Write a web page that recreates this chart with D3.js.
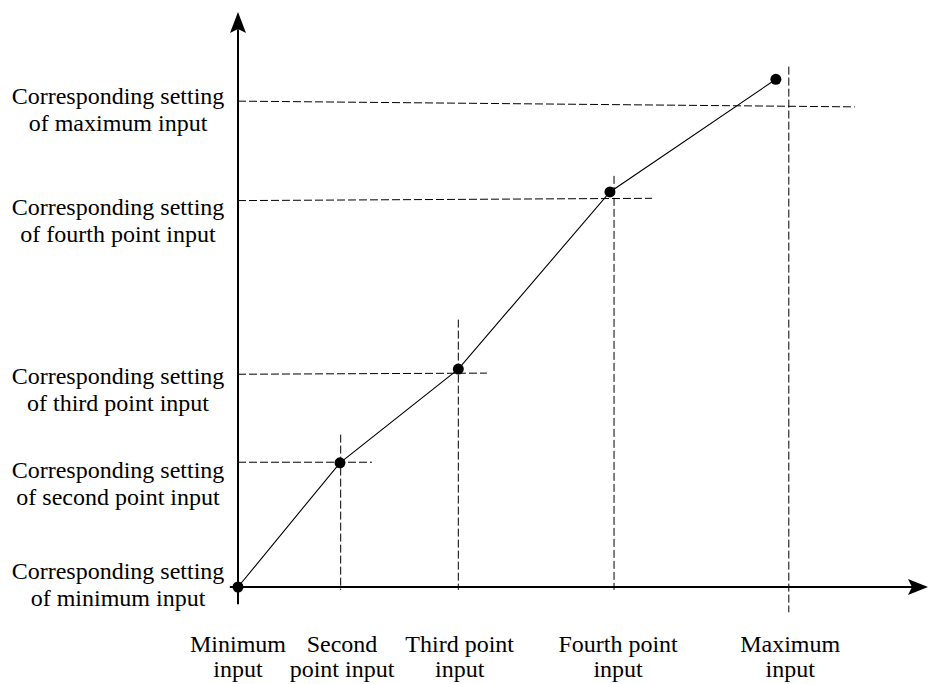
<!DOCTYPE html>
<html><head><meta charset="utf-8">
<script src="https://cdn.jsdelivr.net/npm/d3@7"></script>
<style>body{margin:0;background:#fff}svg{display:block}</style>
</head><body>
<svg id="c" width="930" height="684"></svg>
<script>
// Data (abstract units 0..100 on each axis)
const pointX = [0, 15, 32.4, 54.7, 79.1];
const pointY = [0, 21.6, 37.9, 68.7, 88.3];
// vertical dashed guides: x, top y, bottom y
const vGuideX = [15.1, 32.4, 55.3, 81.0];
const vGuideTop = [26.5, 46.5, 71.5, 90.5];
const vGuideBottom = [-0.5, -0.5, -0.5, -4.4];
// horizontal dashed guides: y at axis, y at end, end x
const hGuideY0 = [21.7, 37.0, 67.2, 84.5];
const hGuideY1 = [21.7, 37.2, 67.6, 83.5];
const hGuideEnd = [19.7, 36.6, 60.9, 90.7];
const yLabels = [
  ["Corresponding setting", "of minimum input"],
  ["Corresponding setting", "of second point input"],
  ["Corresponding setting", "of third point input"],
  ["Corresponding setting", "of fourth point input"],
  ["Corresponding setting", "of maximum input"]
];
const yLabelPos = [2.8, 20.3, 36.7, 66.1, 85.4];
const xLabels = [
  ["Minimum", "input"],
  ["Second", "point input"],
  ["Third point", "input"],
  ["Fourth point", "input"],
  ["Maximum", "input"]
];
const xLabelPos = [0, 15.3, 32.6, 55.9, 81.2];

const svg = d3.select("#c");
const x = d3.scaleLinear().domain([0, 100]).range([238, 918]);
const y = d3.scaleLinear().domain([0, 100]).range([587, 12]);
const font = "'Liberation Serif','Times New Roman',serif";
const fs = 24;

// axes
svg.append("line").attr("x1", x(-1.2)).attr("x2", x(100)).attr("y1", y(0)).attr("y2", y(0))
  .attr("stroke", "#000").attr("stroke-width", 2);
svg.append("line").attr("x1", x(0)).attr("x2", x(0)).attr("y1", y(-3)).attr("y2", y(97))
  .attr("stroke", "#000").attr("stroke-width", 2);
// arrows
const ax = x(0), ay = y(100);
svg.append("path").attr("d", `M${ax},${ay} L${ax+8},${ay+21} L${ax},${ay+17} L${ax-8},${ay+21} Z`).attr("fill", "#000");
const bx = x(100) + 10, by = y(0);
svg.append("path").attr("d", `M${bx},${by} L${bx-20},${by-8} L${bx-16},${by} L${bx-20},${by+8} Z`).attr("fill", "#000");

// dashed guides
const dash = "8,3";
svg.selectAll(".vg").data(vGuideX).join("line")
  .attr("x1", d => x(d)).attr("x2", d => x(d))
  .attr("y1", (d, i) => y(vGuideTop[i])).attr("y2", (d, i) => y(vGuideBottom[i]))
  .attr("stroke", "#000").attr("stroke-width", 1).attr("stroke-dasharray", dash);
svg.selectAll(".hg").data(hGuideY0).join("line")
  .attr("x1", x(0)).attr("x2", (d, i) => x(hGuideEnd[i]))
  .attr("y1", d => y(d)).attr("y2", (d, i) => y(hGuideY1[i]))
  .attr("stroke", "#000").attr("stroke-width", 1).attr("stroke-dasharray", dash);

// polyline
const pts = pointX.map((d, i) => [x(d), y(pointY[i])]);
svg.append("path").attr("d", d3.line()(pts)).attr("fill", "none").attr("stroke", "#000").attr("stroke-width", 1.1);
svg.selectAll(".pt").data(pts).join("circle")
  .attr("cx", d => d[0]).attr("cy", d => d[1]).attr("r", 5.5).attr("fill", "#000");

// y labels
yLabels.forEach((lines, i) => {
  const t = svg.append("text").attr("x", 118).attr("y", y(yLabelPos[i]) + 8)
    .attr("text-anchor", "middle").attr("font-family", font).attr("font-size", fs).attr("fill", "#000");
  lines.forEach((s, j) => t.append("tspan").attr("x", 118).attr("dy", j ? 27 : 0).text(s));
});
// x labels
xLabels.forEach((lines, i) => {
  const t = svg.append("text").attr("x", x(xLabelPos[i])).attr("y", 652)
    .attr("text-anchor", "middle").attr("font-family", font).attr("font-size", fs).attr("fill", "#000");
  lines.forEach((s, j) => t.append("tspan").attr("x", x(xLabelPos[i])).attr("dy", j ? 25 : 0).text(s));
});
</script>
</body></html>
